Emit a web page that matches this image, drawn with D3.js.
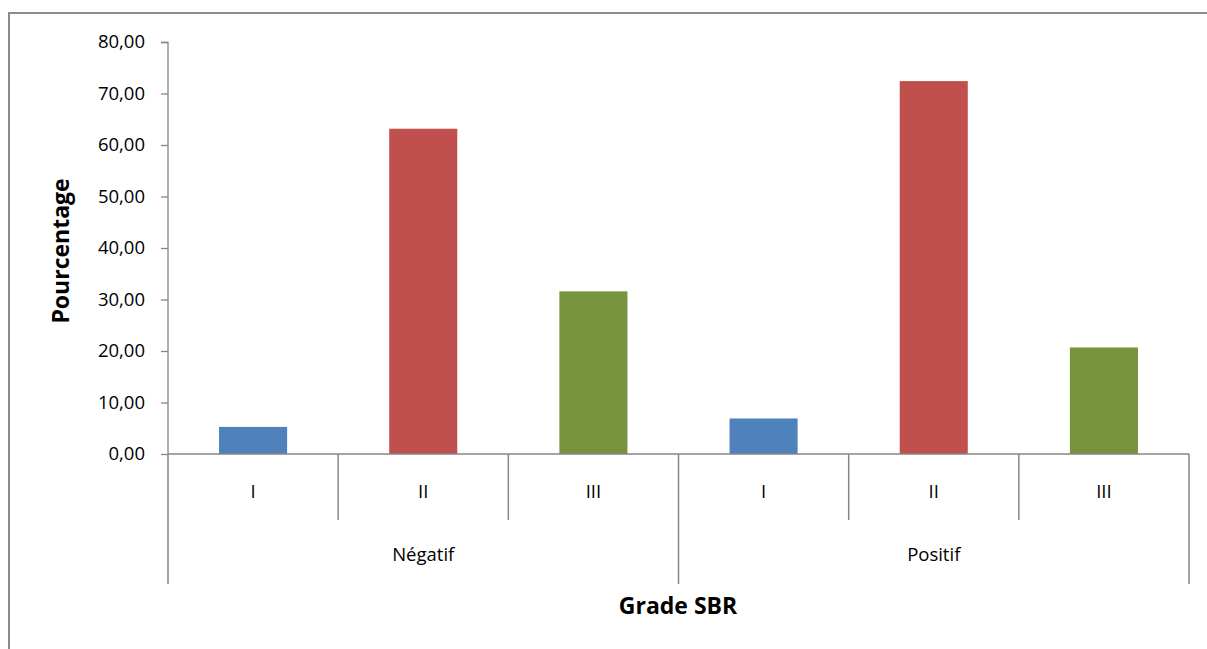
<!DOCTYPE html>
<html>
<head>
<meta charset="utf-8">
<script src="https://cdn.jsdelivr.net/npm/d3@7"></script>
<style>
  html, body { margin: 0; padding: 0; background: #fff; }
  svg { display: block; font-family: "Open Sans", sans-serif; }
</style>
</head>
<body>
<svg width="1207" height="649"></svg>
<script>
// data
const groups = ['Négatif', 'Positif'];
const grades = ['I', 'II', 'III'];
const values = [5.26, 63.16, 31.58, 6.90, 72.41, 20.69];
const yTicks = [0, 10, 20, 30, 40, 50, 60, 70, 80];
const colors = ['#4F81BD', '#C0504D', '#77933C'];

const svg = d3.select('svg');
const margens = { left: 168, right: 18, top: 42, bottom: 195 };
const width = 1207, height = 649;
const innerWidth = width - margens.left - margens.right;
const innerHeight = height - margens.top - margens.bottom;
const fontSize = 18.5;

// outer chart frame (runs off the right / bottom)
svg.append('rect')
    .attr('x', 9).attr('y', 13)
    .attr('width', 1300).attr('height', 700)
    .attr('fill', 'none')
    .attr('stroke', '#8c8c8c')
    .attr('stroke-width', 2);

const g = svg.append('g')
    .attr('transform', `translate(${margens.left}, ${margens.top})`);

const rows = [];
groups.forEach((grp, i) => grades.forEach((gr, j) => {
    rows.push({ key: grp + '-' + gr, group: grp, grade: gr, gi: j, value: values[i * grades.length + j] });
}));

const x = d3.scaleBand().domain(rows.map(d => d.key)).range([0, innerWidth]).paddingInner(0).paddingOuter(0);
const y = d3.scaleLinear().domain([0, 80]).range([innerHeight, 0]);

// y axis
const yAxis = d3.axisLeft(y)
    .tickValues(yTicks)
    .tickSize(7)
    .tickPadding(16)
    .tickFormat(d => d3.format('.2f')(d).replace('.', ','));
const ya = g.append('g').call(yAxis);
ya.selectAll('line, path').attr('stroke', '#868686').attr('stroke-width', 1.3);
ya.select('.domain').attr('d', `M-7,0.5H0V${innerHeight}`);
ya.selectAll('text').attr('font-size', fontSize).attr('fill', '#000')
    .attr('font-family', '"Open Sans", sans-serif');

// bars
g.append('g').selectAll('rect')
    .data(rows)
    .join('rect')
    .attr('x', d => x(d.key) + x.bandwidth() * 0.3)
    .attr('width', x.bandwidth() * 0.4)
    .attr('y', d => y(d.value))
    .attr('height', d => y(0) - y(d.value))
    .attr('fill', d => colors[d.gi]);

// x axis line
g.append('line')
    .attr('x1', 0).attr('x2', innerWidth)
    .attr('y1', innerHeight).attr('y2', innerHeight)
    .attr('stroke', '#868686').attr('stroke-width', 1.5);

// category separators
const lvl1 = 66, lvl2 = 130;
const seps = d3.range(rows.length + 1);
g.append('g').selectAll('line')
    .data(seps)
    .join('line')
    .attr('x1', i => i * x.bandwidth()).attr('x2', i => i * x.bandwidth())
    .attr('y1', innerHeight)
    .attr('y2', i => innerHeight + (i % grades.length === 0 ? lvl2 : lvl1))
    .attr('stroke', '#868686').attr('stroke-width', 1.5);

// grade labels
g.append('g').selectAll('text')
    .data(rows)
    .join('text')
    .attr('x', d => x(d.key) + x.bandwidth() / 2)
    .attr('y', innerHeight + 44)
    .attr('text-anchor', 'middle')
    .attr('font-size', fontSize)
    .text(d => d.grade);

// group labels
const gw = x.bandwidth() * grades.length;
g.append('g').selectAll('text')
    .data(groups)
    .join('text')
    .attr('x', (d, i) => i * gw + gw / 2)
    .attr('y', innerHeight + 107)
    .attr('text-anchor', 'middle')
    .attr('font-size', fontSize)
    .text(d => d);

// axis titles
svg.append('text')
    .attr('x', 678).attr('y', 614)
    .attr('text-anchor', 'middle')
    .attr('font-size', 23).attr('font-weight', 'bold')
    .text('Grade SBR');

svg.append('text')
    .attr('transform', 'translate(69, 251) rotate(-90)')
    .attr('text-anchor', 'middle')
    .attr('font-size', 23).attr('font-weight', 'bold')
    .text('Pourcentage');
</script>
</body>
</html>
